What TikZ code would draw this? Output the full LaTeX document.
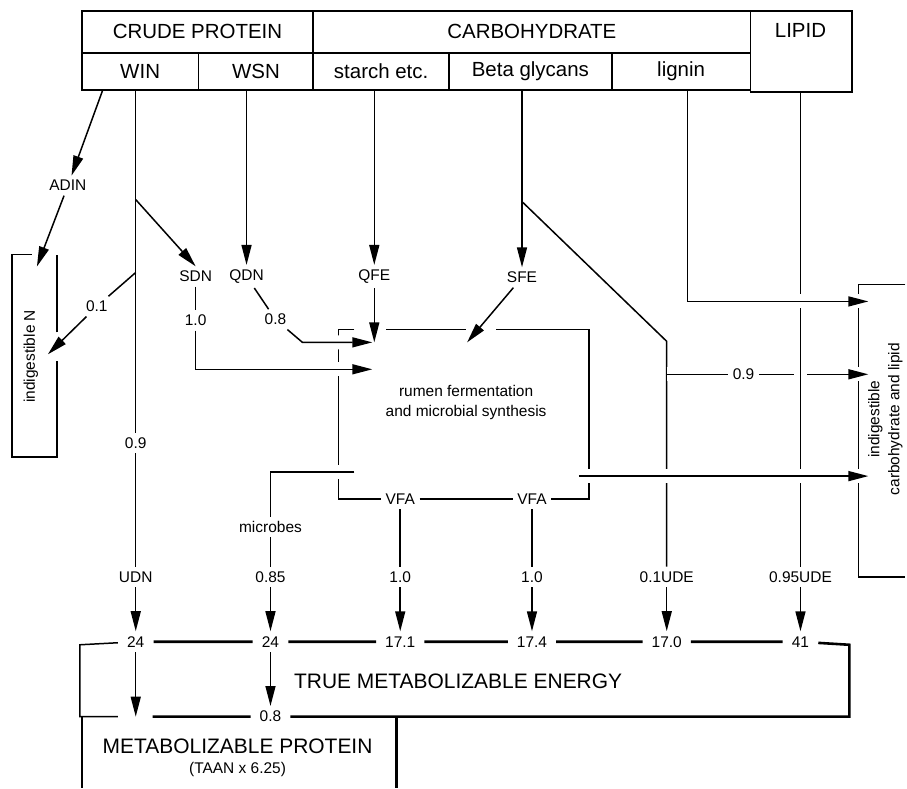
\documentclass[tikz,border=0pt]{standalone}
\usepackage{fontspec}
\setmainfont{Liberation Sans}
\usetikzlibrary{arrows.meta, calc}
\newcommand{\hdrfont}{\fontsize{20.5}{24}\selectfont}
\newcommand{\lblfont}{\fontsize{15.5}{20}\selectfont}
\newcommand{\tmefont}{\fontsize{21}{25}\selectfont}
\tikzset{
  hdrcell/.style={draw, line width=1.8pt, inner sep=0pt, anchor=north west,
                  font=\hdrfont},
  lbl/.style={inner sep=4.5pt, font=\lblfont},
  val/.style={inner xsep=9pt, inner ysep=5pt, font=\lblfont},
  ln/.style={line width=1.5pt},
  thk/.style={line width=2.6pt},
  arr/.style={line width=1.5pt, -{Triangle[length=20pt, width=10pt]}},
  bridge/.style={preaction={draw=white, line width=14pt, -,
                 shorten <=6pt, shorten >=6pt}}
}
\begin{document}
\begin{tikzpicture}[x=1pt, y=-1pt]
  \fill[white] (0,0) rectangle (907,789);

  \node[hdrcell, minimum width=232pt, minimum height=42pt] (cp) at (81,10) {CRUDE PROTEIN};
  \node[hdrcell, minimum width=438pt, minimum height=42pt] (carb) at (313,10) {CARBOHYDRATE};
  \node[hdrcell, minimum width=102pt, minimum height=81pt] (lipid) at (751,10) {};
  \node[font=\hdrfont] (lipidtxt) at (802,31) {LIPID};
  \node[hdrcell, minimum width=117pt, minimum height=37pt] (win) at (81,52) {WIN};
  \node[hdrcell, minimum width=115pt, minimum height=37pt] (wsn) at (198,52) {WSN};
  \node[hdrcell, minimum width=136pt, minimum height=37pt] (starch) at (313,52) {starch etc.};
  \node[hdrcell, minimum width=163pt, minimum height=37pt] (beta) at (449,52) {Beta glycans};
  \node[hdrcell, minimum width=139pt, minimum height=37pt] (lignin) at (612,52) {lignin};

  \node[lbl] (adin) at (68,186) {ADIN};
  \node[lbl, rotate=90] (indn) at (31,357) {indigestible N};
  \node[lbl] (sdn) at (196,277) {SDN};
  \node[lbl] (qdn) at (247,277) {QDN};
  \node[lbl] (qfe) at (375,277) {QFE};
  \node[lbl] (sfe) at (523,278) {SFE};
  \node[lbl] (c01) at (97,307) {0.1};
  \node[lbl] (c10) at (196,321) {1.0};
  \node[lbl] (c08) at (276,320) {0.8};
  \node[lbl] (c09) at (136,444) {0.9};
  \node[lbl, align=center] (rumen) at (467,403) {rumen fermentation\\and microbial synthesis};
  \node[lbl] (c09r) at (745,375) {0.9};
  \node[lbl, rotate=90, align=center] (indcl) at (887,420) {indigestible\\carbohydrate and lipid};
  \node[lbl] (vfa1) at (401,500) {VFA};
  \node[lbl] (vfa2) at (533,500) {VFA};
  \node[lbl] (micro) at (271,528) {microbes};
  \node[lbl] (udn) at (136,578) {UDN};
  \node[lbl] (c085) at (271,578) {0.85};
  \node[lbl] (c10a) at (401,578) {1.0};
  \node[lbl] (c10b) at (533,578) {1.0};
  \node[lbl] (ude1) at (668,578) {0.1UDE};
  \node[lbl] (ude2) at (802,578) {0.95UDE};
  \node[val] (e1) at (136,643) {24};
  \node[val] (e2) at (271,643) {24};
  \node[val] (e3) at (401,643) {17.1};
  \node[val] (e4) at (533,643) {17.4};
  \node[val] (e5) at (668,643) {17.0};
  \node[val] (e6) at (802,643) {41};
  \node[val] (p08) at (271,718) {0.8};
  \node[font=\tmefont] (tme) at (459,683) {TRUE METABOLIZABLE ENERGY};
  \node[font=\tmefont] (mp) at (238,748) {METABOLIZABLE PROTEIN};
  \node[font=\lblfont] (taan) at (238,771) {(TAAN x 6.25)};

  \coordinate (adsrc) at (103,90);
  \coordinate (adtip) at (37,267);
  \coordinate (sdsrc) at (136,200);
  \coordinate (c01src) at (136,273);
  \coordinate (c01tip) at (48,355);
  \coordinate (k08) at (303,343);
  \coordinate (rin1) at (373,343);
  \coordinate (rin2) at (373,370);
  \coordinate (rin3) at (468,343);
  \coordinate (btsrc) at (523,202);
  \coordinate (bk) at (668,342);
  \coordinate (lgk) at (689,302);
  \coordinate (ic1) at (870,302);
  \coordinate (c09src) at (668,375);
  \coordinate (ic2) at (870,375);
  \coordinate (rxR) at (580,477);
  \coordinate (ic3) at (870,477);
  \coordinate (rxL) at (355,473);
  \coordinate (mk) at (271,473);

  \draw[ln] (32,255) -- (12,255) -- (12,458) -- (57,458) -- (57,362) (57,333) -- (57,255);
  \draw[ln] (355,330) -- (339,330) -- (339,500) -- (vfa1) -- (vfa2) -- (590,500)
            -- (590,330) -- (497,330) (387,330) -- (467,330);
  \draw[ln] (907,285) -- (860,285) -- (860,578) -- (907,578);
  \draw[ln] (118,718) -- (80,718) -- (80,646) -- (e1);
  \draw[thk] (e1) -- (e2) -- (e3) -- (e4) -- (e5) -- (e6) -- (851,646) -- (851,718)
             -- (p08) -- (153,718);
  \draw[ln] (82,718) -- (82,789);
  \draw[thk] (397,718) -- (397,789);

  \draw[arr] (adsrc) -- (adin);
  \draw[arr] (adin) -- (adtip);
  \draw[ln] (udn |- win.south) -- (c09);
  \draw[arr] (sdsrc) -- (sdn.north);
  \draw[ln] (c01src) -- (c01);
  \draw[arr] (c01) -- (c01tip);
  \draw[arr] (qdn |- wsn.south) -- (qdn);
  \draw[arr] (qfe |- starch.south) -- (qfe);
  \draw[arr] (sfe |- beta.south) -- (sfe);
  \foreach \from/\to in {c09/udn, sdn/c10, qdn/c08, micro/c085, vfa1/c10a, vfa2/c10b}
    \draw[ln] (\from) -- (\to);
  \foreach \from/\to in {udn/e1, c085/e2, c10a/e3, c10b/e4, ude1/e5, ude2/e6, e2/p08}
    \draw[arr] (\from) -- (\to);
  \draw[arr] (e1) -- (e1 |- p08);

  \draw[ln] (btsrc) -- (bk) -- (ude1);
  \draw[arr, bridge] (c09src) -- (c09r) -- (ic2);
  \draw[ln, bridge] (ude2 |- lipid.south) -- (ude2);
  \draw[arr, bridge] (lignin.south -| lgk) -- (lgk) -- (ic1);
  \draw[arr, bridge] (rxR) -- (ic3);
  \draw[ln, bridge] (rxL) -- (mk) -- (micro);

  \draw[arr, bridge] (c08) -- (k08) -- (rin1);
  \draw[arr, bridge] (c10) -- (c10 |- rin2) -- (rin2);
  \draw[arr, bridge] (qfe) -- (qfe |- rin1);
  \draw[arr, bridge] (sfe) -- (rin3);
\end{tikzpicture}
\end{document}
